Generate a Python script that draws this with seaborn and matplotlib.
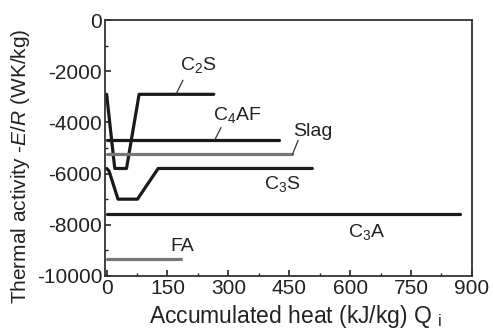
import matplotlib
matplotlib.use("Agg")
import matplotlib.pyplot as plt
import seaborn as sns
import pandas as pd
from matplotlib.ticker import MultipleLocator

# ---- data ----
c2s_x = [0, 20, 49, 80, 264]
c2s_y = [-2900, -5800, -5800, -2900, -2900]
c4af_x = [0, 426]
c4af_y = [-4700, -4700]
slag_x = [0, 458]
slag_y = [-5250, -5250]
c3s_x = [0, 6, 28, 76, 127, 507]
c3s_y = [-5800, -5900, -7000, -7000, -5800, -5800]
c3a_x = [0, 870]
c3a_y = [-7600, -7600]
fa_x = [0, 183]
fa_y = [-9350, -9350]

series = {
    "C2S": (c2s_x, c2s_y),
    "C4AF": (c4af_x, c4af_y),
    "Slag": (slag_x, slag_y),
    "C3S": (c3s_x, c3s_y),
    "C3A": (c3a_x, c3a_y),
    "FA": (fa_x, fa_y),
}
colors = {"C2S": "#1a1a1a", "C4AF": "#1a1a1a", "Slag": "#777777",
          "C3S": "#1a1a1a", "C3A": "#1a1a1a", "FA": "#777777"}

rows = []
for name, (xs, ys) in series.items():
    for i, (x, y) in enumerate(zip(xs, ys)):
        rows.append({"series": name, "order": i, "Q": x, "ER": y})
df = pd.DataFrame(rows)

sns.set_style("white")
plt.rcParams["font.family"] = ["Liberation Sans", "DejaVu Sans"]
plt.rcParams["mathtext.fontset"] = "custom"
plt.rcParams["mathtext.rm"] = "Liberation Sans"
plt.rcParams["mathtext.it"] = "Liberation Sans:italic"
plt.rcParams["axes.unicode_minus"] = False

fig = plt.figure(figsize=(4.93, 3.36), dpi=100)
ax = fig.add_axes([0.213, 0.179, 0.744, 0.761])

sns.lineplot(data=df, x="Q", y="ER", hue="series", palette=colors,
             sort=False, estimator=None, units="series", linewidth=2.3,
             legend=False, ax=ax)

ax.set_xlim(-4, 900)
ax.set_ylim(-10000, 0)
ax.xaxis.set_major_locator(MultipleLocator(150))
ax.xaxis.set_minor_locator(MultipleLocator(75))
ax.yaxis.set_major_locator(MultipleLocator(2000))
ax.yaxis.set_minor_locator(MultipleLocator(1000))
ax.tick_params(axis="both", which="both", direction="in", top=False, right=False,
               labelsize=15, colors="#222222", pad=2)
ax.tick_params(which="major", length=4, width=1.2, left=True, bottom=True)
ax.tick_params(which="minor", length=2.5, width=1.0, left=True, bottom=True)
for s in ax.spines.values():
    s.set_linewidth(1.3)
    s.set_color("#333333")

ax.set_xlabel(r"Accumulated heat (kJ/kg) Q $_{\mathrm{i}}$", fontsize=16.5, color="#222222")
ax.set_ylabel(r"Thermal activity -$\it{E/R}$ (WK/kg)", fontsize=15, color="#222222")
ax.xaxis.set_label_coords(0.52, -0.105)
ax.yaxis.set_label_coords(-0.2, 0.43)

tk = dict(fontsize=14, color="#222222", ha="center", va="center")
ax.text(225, -1750, r"C$_2$S", **tk)
ax.plot([171, 188], [-2900, -2350], color="#333333", lw=0.9)
ax.text(322, -3700, r"C$_4$AF", **tk)
ax.plot([266, 282], [-4700, -4200], color="#333333", lw=0.9)
ax.text(508, -4350, "Slag", **tk)
ax.plot([458, 472], [-5250, -4700], color="#333333", lw=0.9)
ax.text(432, -6400, r"C$_3$S", **tk)
ax.text(640, -8300, r"C$_3$A", **tk)
ax.text(186, -8850, "FA", **tk)

fig.savefig("out.png", dpi=100)
